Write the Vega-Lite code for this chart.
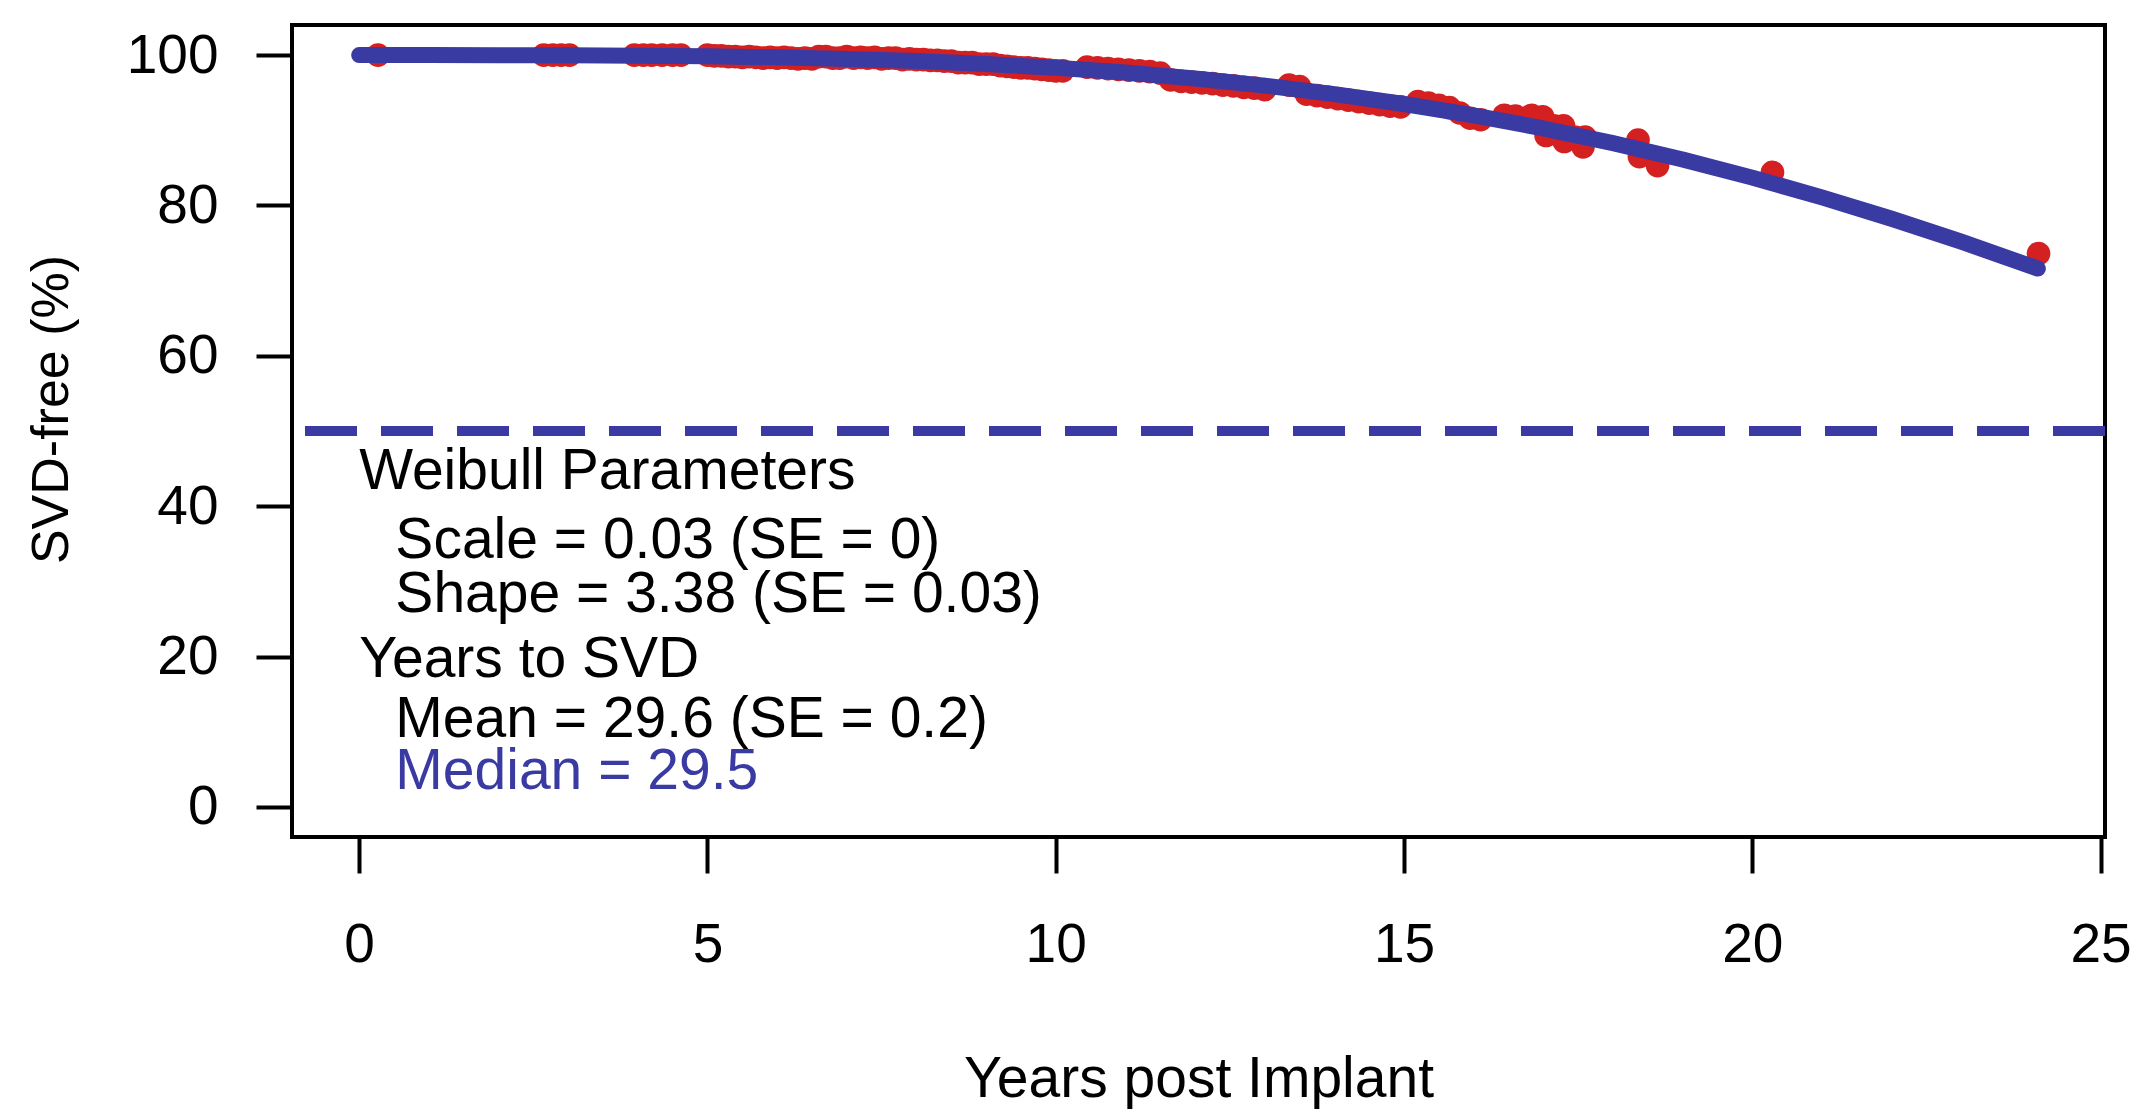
{
  "$schema": "https://vega.github.io/schema/vega-lite/v6.json",
  "width": 1813,
  "height": 812,
  "autosize": {"type": "none"},
  "padding": {"left": 292, "top": 25, "right": 32, "bottom": 276},
  "background": "white",
  "config": {
    "view": {"stroke": "black", "strokeWidth": 4},
    "font": "Liberation Sans",
    "axis": {
      "domain": false,
      "grid": false,
      "ticks": true,
      "tickColor": "black",
      "tickWidth": 4,
      "tickSize": 36,
      "labelFont": "Liberation Sans",
      "labelFontSize": 55,
      "labelColor": "black",
      "titleFont": "Liberation Sans",
      "titleFontSize": 57,
      "titleFontWeight": "normal",
      "titleColor": "black"
    }
  },
  "datasets": {
    "km": [
      {"t": 0.27, "v": 100}, {"t": 2.65, "v": 100}, {"t": 2.78, "v": 100}, {"t": 2.9, "v": 100}, {"t": 3.02, "v": 100},
      {"t": 3.95, "v": 100}, {"t": 4.08, "v": 100}, {"t": 4.2, "v": 100}, {"t": 4.35, "v": 100}, {"t": 4.5, "v": 100}, {"t": 4.62, "v": 100},
      {"t": 5.0, "v": 100}, {"t": 5.1, "v": 99.9}, {"t": 5.2, "v": 99.9}, {"t": 5.3, "v": 99.8}, {"t": 5.4, "v": 99.8},
      {"t": 5.5, "v": 99.7}, {"t": 5.6, "v": 99.8}, {"t": 5.7, "v": 99.7}, {"t": 5.8, "v": 99.6}, {"t": 5.9, "v": 99.7},
      {"t": 6.0, "v": 99.6}, {"t": 6.1, "v": 99.7}, {"t": 6.2, "v": 99.6}, {"t": 6.3, "v": 99.5}, {"t": 6.4, "v": 99.6},
      {"t": 6.5, "v": 99.5}, {"t": 6.6, "v": 99.8}, {"t": 6.7, "v": 99.8}, {"t": 6.8, "v": 99.6}, {"t": 6.9, "v": 99.6},
      {"t": 7.0, "v": 99.8}, {"t": 7.1, "v": 99.6}, {"t": 7.2, "v": 99.7}, {"t": 7.3, "v": 99.6}, {"t": 7.4, "v": 99.7},
      {"t": 7.5, "v": 99.5}, {"t": 7.6, "v": 99.6}, {"t": 7.7, "v": 99.6}, {"t": 7.8, "v": 99.4}, {"t": 7.9, "v": 99.5},
      {"t": 8.0, "v": 99.4}, {"t": 8.1, "v": 99.4}, {"t": 8.2, "v": 99.3}, {"t": 8.3, "v": 99.3}, {"t": 8.4, "v": 99.2},
      {"t": 8.5, "v": 99.2}, {"t": 8.6, "v": 99.0}, {"t": 8.7, "v": 99.0}, {"t": 8.8, "v": 99.0}, {"t": 8.9, "v": 98.8},
      {"t": 9.0, "v": 98.8}, {"t": 9.1, "v": 98.8}, {"t": 9.2, "v": 98.6}, {"t": 9.3, "v": 98.5}, {"t": 9.4, "v": 98.4},
      {"t": 9.5, "v": 98.3}, {"t": 9.6, "v": 98.3}, {"t": 9.7, "v": 98.2}, {"t": 9.8, "v": 98.1}, {"t": 9.9, "v": 98.0},
      {"t": 10.0, "v": 97.9}, {"t": 10.1, "v": 97.9},
      {"t": 10.45, "v": 98.4}, {"t": 10.6, "v": 98.3}, {"t": 10.75, "v": 98.2}, {"t": 10.9, "v": 98.1}, {"t": 11.05, "v": 98.0},
      {"t": 11.2, "v": 97.9}, {"t": 11.35, "v": 97.8}, {"t": 11.5, "v": 97.6}, {"t": 11.65, "v": 96.7}, {"t": 11.8, "v": 96.5},
      {"t": 11.95, "v": 96.4}, {"t": 12.1, "v": 96.3}, {"t": 12.25, "v": 96.2}, {"t": 12.4, "v": 96.0}, {"t": 12.55, "v": 95.9},
      {"t": 12.7, "v": 95.7}, {"t": 12.85, "v": 95.6}, {"t": 13.0, "v": 95.4},
      {"t": 13.35, "v": 96.0}, {"t": 13.5, "v": 95.8}, {"t": 13.6, "v": 94.8}, {"t": 13.75, "v": 94.6}, {"t": 13.9, "v": 94.4},
      {"t": 14.05, "v": 94.2}, {"t": 14.2, "v": 94.0}, {"t": 14.35, "v": 93.8}, {"t": 14.5, "v": 93.6}, {"t": 14.65, "v": 93.4},
      {"t": 14.8, "v": 93.2}, {"t": 14.95, "v": 93.1},
      {"t": 15.2, "v": 93.8}, {"t": 15.35, "v": 93.6}, {"t": 15.5, "v": 93.3}, {"t": 15.65, "v": 93.0}, {"t": 15.8, "v": 92.3},
      {"t": 15.95, "v": 91.6}, {"t": 16.1, "v": 91.4},
      {"t": 16.44, "v": 92.0}, {"t": 16.6, "v": 91.9}, {"t": 16.83, "v": 92.0}, {"t": 16.99, "v": 91.8}, {"t": 17.04, "v": 89.3},
      {"t": 17.15, "v": 90.6}, {"t": 17.29, "v": 90.6}, {"t": 17.3, "v": 88.5}, {"t": 17.45, "v": 89.1}, {"t": 17.57, "v": 87.8},
      {"t": 17.6, "v": 89.1}, {"t": 18.36, "v": 88.7}, {"t": 18.38, "v": 86.5}, {"t": 18.64, "v": 85.3},
      {"t": 20.29, "v": 84.4}, {"t": 24.11, "v": 73.6}
    ],
    "fit": [
      {"t": 0, "v": 100}, {"t": 1, "v": 100}, {"t": 2, "v": 99.99}, {"t": 3, "v": 99.97}, {"t": 4, "v": 99.92},
      {"t": 5, "v": 99.84}, {"t": 6, "v": 99.70}, {"t": 7, "v": 99.49}, {"t": 8, "v": 99.20}, {"t": 9, "v": 98.81},
      {"t": 10, "v": 98.31}, {"t": 11, "v": 97.67}, {"t": 12, "v": 96.89}, {"t": 13, "v": 95.94}, {"t": 14, "v": 94.81},
      {"t": 15, "v": 93.49}, {"t": 16, "v": 91.97}, {"t": 17, "v": 90.24}, {"t": 18, "v": 88.28}, {"t": 19, "v": 86.11},
      {"t": 20, "v": 83.70}, {"t": 21, "v": 81.07}, {"t": 22, "v": 78.23}, {"t": 23, "v": 75.18}, {"t": 24.1, "v": 71.6}
    ],
    "ref": [{"v": 50}],
    "notes": [
      {"label": "Weibull Parameters", "tx": 0, "ty": 44.6},
      {"label": "Scale = 0.03 (SE = 0)", "tx": 0.52, "ty": 35.4},
      {"label": "Shape = 3.38 (SE = 0.03)", "tx": 0.52, "ty": 28.2},
      {"label": "Years to SVD", "tx": 0, "ty": 19.6},
      {"label": "Mean = 29.6 (SE = 0.2)", "tx": 0.52, "ty": 11.5},
      {"label": "Median = 29.5", "tx": 0.52, "ty": 4.6}
    ]
  },
  "layer": [
    {
      "data": {"name": "km"},
      "mark": {"type": "circle", "size": 560, "opacity": 1, "color": "#d42020"},
      "encoding": {
        "x": {
          "field": "t", "type": "quantitative",
          "scale": {"domain": [-0.964, 25.064], "nice": false, "zero": false},
          "axis": {"values": [0, 5, 10, 15, 20, 25], "format": "d", "title": "Years post Implant", "labelPadding": 45, "titlePadding": 79}
        },
        "y": {
          "field": "v", "type": "quantitative",
          "scale": {"domain": [-4, 104], "nice": false, "zero": false},
          "axis": {"values": [0, 20, 40, 60, 80, 100], "format": "d", "title": "SVD-free (%)", "titleFontSize": 52, "titleY": 384, "labelPadding": 38, "titlePadding": 48}
        }
      }
    },
    {
      "data": {"name": "fit"},
      "mark": {"type": "line", "color": "#3a3aa3", "strokeWidth": 16, "strokeCap": "round", "strokeJoin": "round"},
      "encoding": {
        "x": {"field": "t", "type": "quantitative"},
        "y": {"field": "v", "type": "quantitative"}
      }
    },
    {
      "data": {"name": "ref"},
      "mark": {"type": "rule", "color": "#3a3aa3", "strokeWidth": 10, "strokeDash": [52, 24]},
      "encoding": {
        "y": {"field": "v", "type": "quantitative"}
      }
    },
    {
      "data": {"name": "notes"},
      "mark": {"type": "text", "align": "left", "baseline": "middle", "fontSize": 57, "font": "Liberation Sans"},
      "encoding": {
        "x": {"field": "tx", "type": "quantitative"},
        "y": {"field": "ty", "type": "quantitative"},
        "text": {"field": "label"},
        "color": {"condition": {"test": "datum.label === 'Median = 29.5'", "value": "#3a3aa3"}, "value": "black"}
      }
    }
  ]
}
